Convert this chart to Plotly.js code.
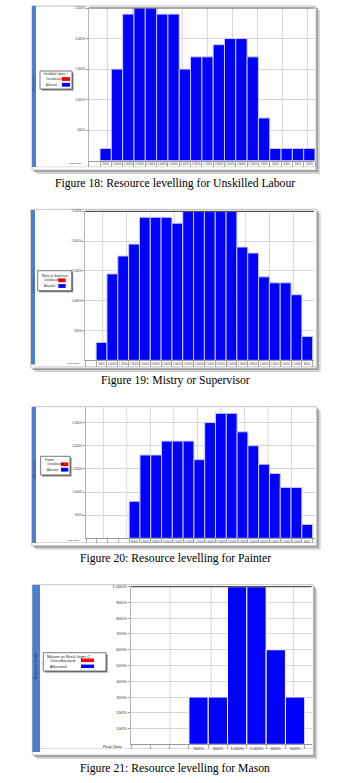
<!DOCTYPE html>
<html><head><meta charset="utf-8">
<script src="https://cdn.plot.ly/plotly-3.0.1.min.js"></script>
<style>html,body{margin:0;padding:0;background:#fff;}#chart{width:358px;height:783px;}</style>
</head><body><div id="chart"></div>
<script>
// ---- Data (peak units in %) ----
const unskilledName = 'Unskilled Labour';
const unskilledPeak = [200,1500,2400,2500,2500,2400,2400,1500,1700,1700,1900,2000,2000,1700,700,200,200,200,200];
const mistryName = 'Mistry or Supervisor';
const mistryPeak = [300,1450,1750,1950,2400,2400,2400,2300,2500,2500,2500,2500,2500,1900,1800,1400,1300,1300,1100,400];
const painterName = 'Painter';
const painterPeak = [800,1800,1800,2100,2100,2100,1700,2500,2700,2700,2300,2000,1600,1400,1100,1100,300];
const masonName = 'Mason or Brick layer C';
const masonPeak = [300,300,1000,1000,600,300];
const captions = [
  'Figure 18: Resource levelling for Unskilled Labour',
  'Figure 19: Mistry or Supervisor',
  'Figure 20: Resource levelling for Painter',
  'Figure 21: Resource levelling for Mason'
];
const yTicksLarge = [500,1000,1500,2000,2500];
const yTicksMason = [100,200,300,400,500,600,700,800,900,1000];
const legendLabels = ['Overallocated:','Allocated:'];
const sideLabel = 'Resource Graph';
const rowLabel = 'Peak Units';

// ---- Layout helpers ----
const W=358,H=783;
const px=x=>x/W, py=y=>1-y/H;
const fmt=v=>v.toLocaleString('en-US')+'%';
const SANS='Liberation Sans, Arial, sans-serif';

const panels=[
 {name:unskilledName, peak:unskilledPeak, caption:captions[0], yTicks:yTicksLarge,
  frame:[32,6,316,170], strip:[32,6,36,167], plot:[88.7,8,315,160.7], row:5.3,
  xr:[-1.5,18.5], yr:[0,2500], g0:0.15, gs:2.21, topLine:true,
  legend:[40,71,72,89], legRows:[73.8,79,84.8], sw:[62,70], fs:3, lfs:2.6, capY:183.5, peakLabel:[84,163.5], stripText:83, rowLabel:rowLabel},
 {name:mistryName, peak:mistryPeak, caption:captions[1], yTicks:yTicksLarge,
  frame:[30.7,209.3,316.7,368], strip:[31,210,35,364.5], plot:[85.3,211.3,314,360.3], row:5.3,
  xr:[-1.5,19.62], yr:[0,2500], g0:0.11, gs:2.2, topLine:true,
  legend:[37.7,270.7,71.7,290.7], legRows:[276.3,280.3,286], sw:[58.3,65.7], fs:3, lfs:2.6, capY:380.5, peakLabel:[82,363], stripText:284, rowLabel:rowLabel},
 {name:painterName, peak:painterPeak, caption:captions[2], yTicks:yTicksLarge,
  frame:[31.7,406.7,316.7,545.7], strip:[32,407,36,543], plot:[86,407.3,315,538.3], row:3.5,
  xr:[-4.5,16.72], yr:[0,2830], g0:-2.9, gs:2.18, topLine:false,
  legend:[40.7,456.3,70,475], legRows:[460.3,464.3,469.7], sw:[61,68.3], fs:3, lfs:2.6, capY:558, peakLabel:[82,540], stripText:469, rowLabel:rowLabel},
 {name:masonName, peak:masonPeak, caption:captions[3], yTicks:yTicksMason,
  frame:[32.3,584.7,313.3,755], strip:[32.3,585,40,752], plot:[131,586.7,311.7,744.3], row:3.5,
  xr:[-3.5,5.86], yr:[0,1000], g0:-1.48, gs:2.13, topLine:true,
  legend:[43.3,652.7,106,671], legRows:[656,660.3,666.3], sw:[81,94], fs:4.3, lfs:4, capY:768, peakLabel:[124,746.5], stripText:666, rowLabel:rowLabel+':'}
];

const traces=[], shapes=[], annotations=[];
const layout={width:W,height:H,margin:{l:0,r:0,t:0,b:0},paper_bgcolor:'#ffffff',
  plot_bgcolor:'rgba(0,0,0,0)',showlegend:false,hovermode:false,bargap:0,
  font:{family:SANS,color:'#333'}};

function rect(x0,y0,x1,y1,fill,line,lw,layer){
  shapes.push({type:'rect',xref:'paper',yref:'paper',x0:px(x0),x1:px(x1),y0:py(y1),y1:py(y0),
    fillcolor:fill,line:{color:line||fill,width:lw===undefined?0:lw},layer:layer||'below'});
}
function text(t,x,y,size,opts){
  annotations.push(Object.assign({text:t,xref:'paper',yref:'paper',x:px(x),y:py(y),showarrow:false,
    xanchor:'left',yanchor:'middle',font:{family:SANS,size:size,color:'#222'}},opts||{}));
}

panels.forEach((p,i)=>{
  const n=i===0?'':String(i+1);
  const f=p.frame;
  // frame shadow + frame
  rect(f[0]+4,f[1]+4,f[2]+4,f[3]+4,'#d4d4d4');
  rect(f[0]+2,f[1]+2,f[2]+2,f[3]+2,'#9c9c9c');
  rect(f[0],f[1],f[2],f[3],'#ffffff','#c4c4c4',1);
  // blue strip
  rect(p.strip[0],p.strip[1],p.strip[2],p.strip[3],'#4d7fd1');
  text(sideLabel,(p.strip[0]+p.strip[2])/2,p.stripText,i===3?3.6:2.4,{xanchor:'center',textangle:-90,font:{family:SANS,size:i===3?3.6:2.4,color:'#1a1a40'}});
  // scrollbar line at bottom of frame
  rect(p.strip[2],p.plot[3]+p.row+0.5,f[2],p.plot[3]+p.row+1.2,'#cfcfcf');

  const idx=p.peak.map((_,k)=>k);
  traces.push({type:'bar',name:'Allocated',x:idx,y:p.peak,xaxis:'x'+n,yaxis:'y'+n,width:1,
    marker:{color:'#0000ff',line:{color:i===3?'#ffffff':'#c9c9ff',width:1}}});

  layout['xaxis'+n]={domain:[px(p.plot[0]),px(p.plot[2])],range:p.xr,anchor:'y'+n,
    showgrid:false,zeroline:false,showline:true,linecolor:'#9a9a9a',linewidth:1,
    tickmode:'array',tickvals:idx,ticktext:p.peak.map(fmt),ticks:'',tickangle:0,
    tickfont:{family:SANS,size:i===3?4:2.7,color:'#333'},
    minor:{tickmode:'linear',tick0:-0.5,dtick:1,ticks:'outside',ticklen:p.row,tickcolor:'#aaaaaa',tickwidth:1,showgrid:false},
    fixedrange:true};
  layout['yaxis'+n]={domain:[py(p.plot[3]),py(p.plot[1])],range:p.yr,anchor:'x'+n,
    showgrid:true,gridcolor:'#d6d6d6',gridwidth:1,zeroline:false,showline:true,linecolor:'#b5b5b5',linewidth:1,
    tickmode:'array',tickvals:p.yTicks,ticktext:p.yTicks.map(fmt),ticks:'outside',ticklen:2,tickcolor:'#999',
    tickfont:{family:SANS,size:p.fs,color:'#333'},fixedrange:true};

  // vertical timescale gridlines
  for(let g=p.g0; g<p.xr[1]; g+=p.gs){
    shapes.push({type:'line',xref:'x'+n,yref:'y'+n+' domain',x0:g,x1:g,y0:0,y1:1,layer:'below',line:{color:'#d6d6d6',width:1}});
  }
  if(p.topLine){
    shapes.push({type:'line',xref:'x'+n+' domain',yref:'y'+n+' domain',x0:0,x1:1,y0:1,y1:1,layer:'above',line:{color:'#555',width:1.2}});
  }
  // peak units label
  text(p.rowLabel,p.peakLabel[0],p.peakLabel[1],i===3?3.8:2.5,{xanchor:'right'});

  // legend box
  const L=p.legend;
  rect(L[0]+1.5,L[1]+1.5,L[2]+1.5,L[3]+1.5,'#7a7a7a',null,0,'above');
  rect(L[0],L[1],L[2],L[3],'#ffffff','#555555',0.8,'above');
  text(p.name,L[0]+2,p.legRows[0],p.lfs+0.3);
  text(legendLabels[0],L[0]+(i===3?5:4),p.legRows[1],p.lfs);
  text(legendLabels[1],L[0]+(i===3?5:4),p.legRows[2],p.lfs);
  const sh=i===3?3.5:3.8;
  rect(p.sw[0],p.legRows[1]-sh/2,p.sw[1],p.legRows[1]+sh/2,'#ff0000','#ffffff',0,'above');
  rect(p.sw[0],p.legRows[2]-sh/2,p.sw[1],p.legRows[2]+sh/2,'#0000ff','#ffffff',0,'above');

  // caption
  annotations.push({text:p.caption,xref:'paper',yref:'paper',x:px(175),y:py(p.capY),showarrow:false,
    xanchor:'center',yanchor:'middle',font:{family:'Liberation Serif, Times New Roman, serif',size:11.7,color:'#000'}});
});
layout.shapes=shapes;
layout.annotations=annotations;
Plotly.newPlot('chart',traces,layout,{staticPlot:true,displayModeBar:false});
</script>
</body></html>
